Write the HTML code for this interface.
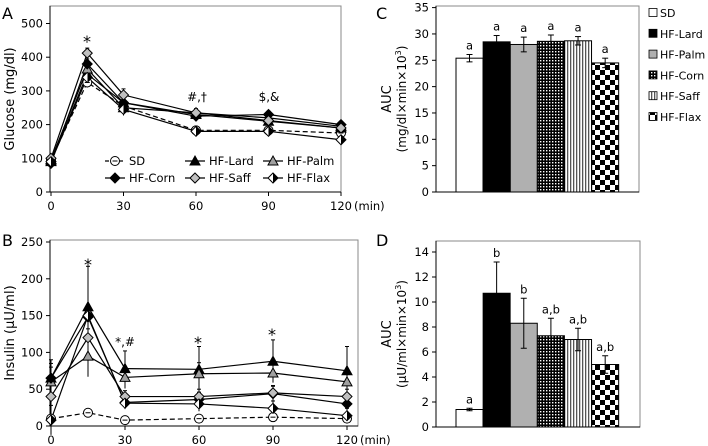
<!DOCTYPE html>
<html><head><meta charset="utf-8"><style>
body{margin:0;background:#fff;}
svg{display:block;font-family:"DejaVu Sans","Liberation Sans",sans-serif;}
</style></head><body>
<svg id="fig" width="708" height="446" viewBox="0 0 708 446">
<defs>
<pattern id="pCorn" width="3" height="3" patternUnits="userSpaceOnUse"><rect width="3" height="3" fill="#000"/><rect x="0" y="0" width="1.4" height="1.4" fill="#fff"/></pattern>
<pattern id="pSaff" width="3" height="3" patternUnits="userSpaceOnUse"><rect width="3" height="3" fill="#fff"/><rect x="0" y="0" width="1.3" height="3" fill="#555"/></pattern>
<pattern id="pFlax" width="10" height="10" patternUnits="userSpaceOnUse"><rect width="10" height="10" fill="#fff"/><rect width="5" height="5" fill="#000"/><rect x="5" y="5" width="5" height="5" fill="#000"/></pattern>
<linearGradient id="gHalf" x1="0" x2="1"><stop offset="0.5" stop-color="#fff"/><stop offset="0.5" stop-color="#000"/></linearGradient>
</defs>
</svg>
<script>
const times=[0,15,30,60,90,120];
const seriesNames=["SD","HF-Lard","HF-Palm","HF-Corn","HF-Saff","HF-Flax"];
const gluSD=[95,325,255,183,183,175];
const gluLard=[90,350,265,230,210,190];
const gluPalm=[95,365,250,235,220,195];
const gluCorn=[85,380,265,225,230,200];
const gluSaff=[100,412,288,235,212,190];
const gluFlax=[90,340,245,180,180,155];
const gluErr=[8,15,18,12,10,8];
const insSD=[10,18,8,10,12,10];
const insLard=[65,162,78,77,88,75];
const insPalm=[60,95,66,71,72,60];
const insCorn=[65,148,32,36,44,30];
const insSaff=[40,120,40,40,45,40];
const insFlax=[8,150,31,30,24,14];
const insErrLard=[25,55,24,31,29,33];
const insErrPalm=[20,28,15,15,12,12];
const aucGlu=[25.4,28.5,28.0,28.6,28.7,24.5];
const aucGluErr=[0.7,1.2,1.4,1.2,0.8,0.9];
const aucGluLbl=["a","a","a","a","a","a"];
const aucIns=[1.4,10.7,8.3,7.3,7.0,5.0];
const aucInsErr=[0.1,2.5,2.0,1.4,0.9,0.7];
const aucInsLbl=["a","b","b","a,b","a,b","a,b"];
const gluTicks=[0,100,200,300,400,500];
const insTicks=[0,50,100,150,200,250];
const cTicks=[0,5,10,15,20,25,30,35];
const dTicks=[0,2,4,6,8,10,12,14];
const xTicks=[0,30,60,90,120];

const svg=document.getElementById('fig');
const NS="http://www.w3.org/2000/svg";
function el(tag,attrs,parent){const e=document.createElementNS(NS,tag);for(const k in attrs)e.setAttribute(k,attrs[k]);(parent||svg).appendChild(e);return e;}
function txt(x,y,s,size,anchor,parent,rot){const t=el('text',{x:x,y:y,'font-size':size,'text-anchor':anchor||'middle',fill:'#000'},parent);if(rot)t.setAttribute('transform','rotate(-90 '+x+' '+y+')');t.textContent=s;return t;}

function marker(g,kind,x,y){
  const s=5;
  if(kind==0){el('circle',{cx:x,cy:y,r:4.5,fill:'#fff',stroke:'#000','stroke-width':1},g);el('line',{x1:x-2.5,y1:y,x2:x+2.5,y2:y,stroke:'#000'},g);}
  else if(kind==1||kind==2){el('polygon',{points:`${x},${y-s} ${x+s},${y+s-1} ${x-s},${y+s-1}`,fill:kind==1?'#000':'#a0a0a0',stroke:'#000','stroke-width':1},g);}
  else{const fill=kind==3?'#000':(kind==4?'#c0c0c0':'url(#gHalf)');el('polygon',{points:`${x},${y-s} ${x+s},${y} ${x},${y+s} ${x-s},${y}`,fill:fill,stroke:'#000','stroke-width':1},g);}
}

function lineChart(name,box,yMax,yTicks,series,errs,title){
  const g=el('g',{},svg);
  
  
  const xs=t=>box.x0+(t/120)*(box.x1-box.x0);
  const ys=v=>box.yb-(v/yMax)*(box.yb-box.yt);
  el('rect',{x:box.l,y:box.t,width:box.r-box.l,height:box.yb-box.t,fill:'#fff',stroke:'#888','stroke-width':1},g);
  yTicks.forEach(v=>{el('line',{x1:box.l-4,x2:box.l,y1:ys(v),y2:ys(v),stroke:'#000'},g);txt(box.l-7,ys(v)+4,String(v),11.5,'end',g);});
  el('line',{x1:box.l,x2:box.l,y1:box.t,y2:box.yb,stroke:'#000'},g);
  el('line',{x1:box.l,x2:box.r,y1:box.yb,y2:box.yb,stroke:'#000'},g);
  xTicks.forEach(v=>{el('line',{x1:xs(v),x2:xs(v),y1:box.yb,y2:box.yb+4,stroke:'#000'},g);txt(xs(v),box.yb+18,String(v),11.5,'middle',g);});
  txt(box.x1+13,box.yb+18,'(min)',11.5,'start',g);
  const yt=txt(14,(box.t+box.yb)/2,title,13,'middle',g,true);
  
  series.forEach((s,i)=>{
    const e=errs[i];
    times.forEach((t,j)=>{const ev=e[j];el('line',{x1:xs(t),x2:xs(t),y1:ys(s[j]-ev),y2:ys(s[j]+ev),stroke:'#000','stroke-width':1},g);el('line',{x1:xs(t)-2,x2:xs(t)+2,y1:ys(s[j]+ev),y2:ys(s[j]+ev),stroke:'#000'},g);});
  });
  series.forEach((s,i)=>{
    const p=el('polyline',{points:times.map((t,j)=>xs(t)+','+ys(s[j])).join(' '),fill:'none',stroke:'#000','stroke-width':1.2},g);
    if(i==0)p.setAttribute('stroke-dasharray','5,3');
    
    
  });
  series.forEach((s,i)=>times.forEach((t,j)=>marker(g,i,xs(t),ys(s[j]))));
  return {g,xs,ys};
}

// Panel A
lineChart('glucose-chart',{l:50,r:341,t:6,yb:192,yt:23.5,x0:51,x1:341},500,gluTicks,
 [gluSD,gluLard,gluPalm,gluCorn,gluSaff,gluFlax],[gluErr,gluErr,gluErr,gluErr,gluErr,gluErr],'Glucose (mg/dl)');
txt(2,19,'A',16,'start');
txt(87,47,'*',16);txt(197,101,'#,†',12);txt(269,101,'$,&',12);
// legend A
const lg=el('g',{},svg);


const lpos=[[105,161],[185,161],[263,161],[105,178],[185,178],[263,178]];
seriesNames.forEach((n,i)=>{const [x,y]=lpos[i];
 const ln=el('line',{x1:x,x2:x+20,y1:y,y2:y,stroke:'#000','stroke-width':1.2},lg);if(i==0)ln.setAttribute('stroke-dasharray','4,3');
 marker(lg,i,x+10,y);txt(x+24,y+4,n,11.5,'start',lg);});

// Panel B
const small=[20,12,8,10,10,10];
lineChart('insulin-chart',{l:50,r:358,t:240,yb:426,yt:242,x0:51,x1:347},250,insTicks,
 [insSD,insLard,insPalm,insCorn,insSaff,insFlax],[[1,2,1,1,1,1],insErrLard,insErrPalm,small,small,small],'Insulin (µU/ml)');
txt(2,246,'B',16,'start');
txt(88,270,'*',16);txt(125,346,'*,#',12);txt(198,348,'*',16);txt(272,340,'*',16);

// Bar charts
const fills=['#fff','#000','#b0b0b0','url(#pCorn)','url(#pSaff)','url(#pFlax)'];
function barChart(name,box,yMax,ticks,vals,errs,lbls,t1,t2){
  const g=el('g',{},svg);
  
  
  const ys=v=>box.yb-(v/yMax)*(box.yb-box.yt);
  const bw=27,bx0=456;
  el('rect',{x:box.l,y:box.t,width:box.r-box.l,height:box.yb-box.t,fill:'#fff',stroke:'#888'},g);
  ticks.forEach(v=>{el('line',{x1:box.l-4,x2:box.l,y1:ys(v),y2:ys(v),stroke:'#000'},g);txt(box.l-7,ys(v)+4,String(v),11.5,'end',g);});
  el('line',{x1:box.l,x2:box.l,y1:box.t,y2:box.yb,stroke:'#000'},g);
  el('line',{x1:box.l,x2:box.r,y1:box.yb,y2:box.yb,stroke:'#000'},g);
  vals.forEach((v,i)=>{const x=bx0+i*bw*1.005;
    const b=el('rect',{x:x,y:ys(v),width:bw,height:box.yb-ys(v),fill:fills[i],stroke:'#000','stroke-width':1},g);
    
    
    const cx=x+bw/2,top=ys(v+errs[i]),bot=ys(v-errs[i]);
    el('line',{x1:cx,x2:cx,y1:top,y2:bot,stroke:'#000'},g);
    el('line',{x1:cx-3,x2:cx+3,y1:top,y2:top,stroke:'#000'},g);
    el('line',{x1:cx-3,x2:cx+3,y1:bot,y2:bot,stroke:'#000'},g);
    txt(cx,top-5,lbls[i],11.5,'middle',g);
  });
  txt(391,(box.t+box.yb)/2,t1,13,'middle',g,true);
  txt(406,(box.t+box.yb)/2,'',12,'middle',g,true).innerHTML=t2;
}
barChart('glucose-auc-chart',{l:436,r:639,t:6,yb:192,yt:7.6},35,cTicks,aucGlu,aucGluErr,aucGluLbl,'AUC','(mg/dl×min×10<tspan font-size="8" dy="-5">3</tspan><tspan dy="5">)</tspan>');
txt(376,19,'C',16,'start');
barChart('insulin-auc-chart',{l:436,r:640,t:241,yb:427,yt:252},14,dTicks,aucIns,aucInsErr,aucInsLbl,'AUC','(µU/ml×min×10<tspan font-size="8" dy="-5">3</tspan><tspan dy="5">)</tspan>');
txt(376,246,'D',16,'start');

// Legend C
const lc=el('g',{},svg);


seriesNames.forEach((n,i)=>{const y=13+i*20.8;
 el('rect',{x:649,y:y-4.5,width:8,height:8,fill:fills[i],stroke:'#000','stroke-width':0.8},lc);
 txt(660,y+4,n,11,'start',lc);});
</script>
</body></html>
